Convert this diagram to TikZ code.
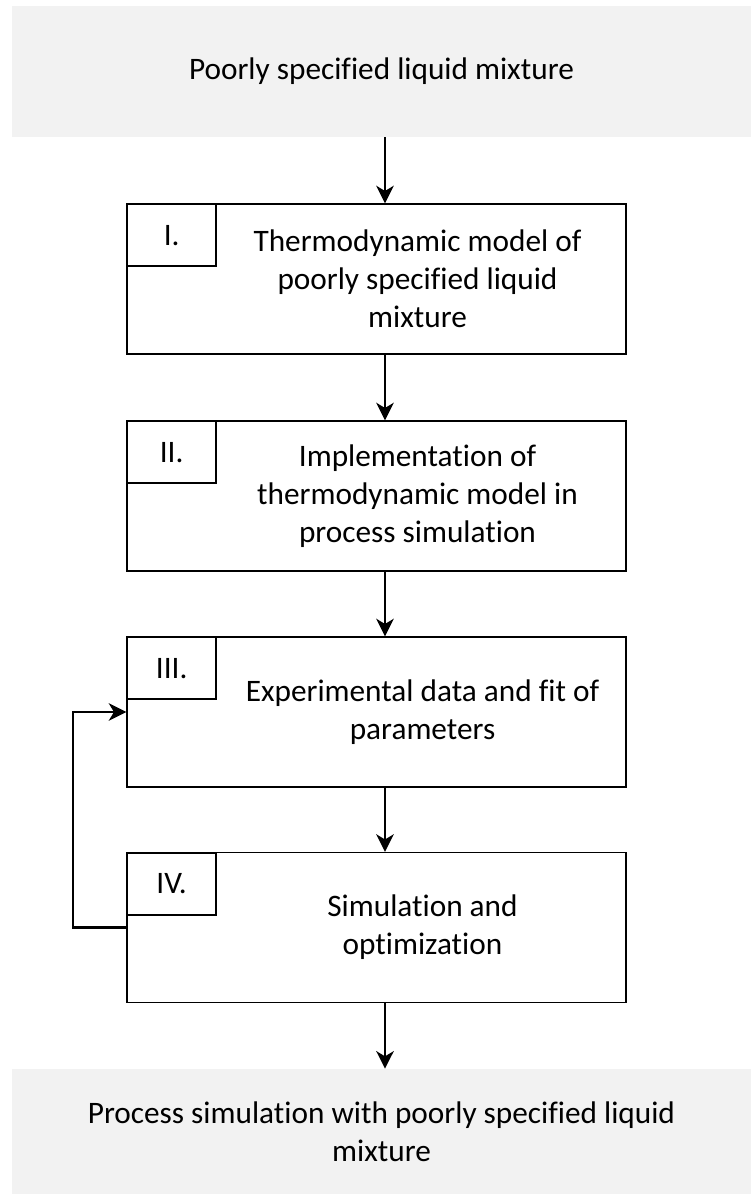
\documentclass[tikz,border=0pt]{standalone}
\usepackage{fontspec}
\setmainfont[Ligatures=NoCommon]{Carlito}
\usepackage{xcolor}
\usepackage{tikz}
\usetikzlibrary{arrows.meta,positioning,calc}

\definecolor{boxgray}{RGB}{242,242,242}

\begin{document}
\begin{tikzpicture}[
    every node/.style={font=\fontsize{17.8}{21.6}\selectfont},
    io/.style     ={rectangle,fill=boxgray,minimum width=147.8mm,
                    align=center,inner sep=0pt},
    stepbox/.style={rectangle,draw=black,line width=0.8pt,fill=white,
                    minimum width=99.8mm,minimum height=30mm},
    steptext/.style={align=center,inner sep=0pt},
    tag/.style    ={rectangle,draw=black,line width=1pt,fill=white,
                    minimum width=17.8mm,minimum height=12.4mm,
                    anchor=north west,inner sep=0pt},
    arr/.style={-{Stealth[length=10pt,width=10pt,inset=3pt]},line width=1.1pt},
    fb/.style ={-{Stealth[length=10pt,width=10pt,inset=3pt]},line width=1.3pt},
  ]
  \useasboundingbox (0,0) rectangle (15.02,-23.9);

  % Input and output
  \node[io,minimum height=26.2mm] (in)  at (7.63,-1.43)
    {Poorly specified liquid mixture};
  \node[io,minimum height=25mm]   (out) at (7.63,-22.63)
    {Process simulation with poorly specified liquid\\mixture};

  % Steps I--IV
  \node[stepbox] (s1) at (7.53,-5.58) {};
  \node[stepbox] (s2) at (7.53,-9.92) {};
  \node[stepbox] (s3) at (7.53,-14.24) {};
  \node[stepbox] (s4) at (7.53,-18.55) {};

  \node[steptext] (t1) at ([xshift=8.2mm]s1.center)
    {Thermodynamic model of\\poorly specified liquid\\mixture};
  \node[steptext] (t2) at ([xshift=8.2mm]s2.center)
    {Implementation of\\thermodynamic model in\\process simulation};
  \node[steptext] (t3) at ([xshift=9.2mm]s3.center)
    {Experimental data and fit of\\parameters};
  \node[steptext] (t4) at ([xshift=9.2mm]s4.center)
    {Simulation and\\optimization};

  \node[tag] (n1) at (s1.north west) {I.};
  \node[tag] (n2) at (s2.north west) {II.};
  \node[tag] (n3) at (s3.north west) {III.};
  \node[tag] (n4) at (s4.north west) {IV.};

  % Main flow
  \coordinate (spine) at (7.7,0);
  \draw[arr] (in.south -| spine) -- (s1.north -| spine);
  \draw[arr] (s1.south -| spine) -- (s2.north -| spine);
  \draw[arr] (s2.south -| spine) -- (s3.north -| spine);
  \draw[arr] (s3.south -| spine) -- (s4.north -| spine);
  \draw[arr] (s4.south -| spine) -- (out.north -| spine);

  % Loop back from IV to III
  \draw[fb] (s4.west) -- ++(-1.06,0) |- (s3.west);
\end{tikzpicture}
\end{document}
